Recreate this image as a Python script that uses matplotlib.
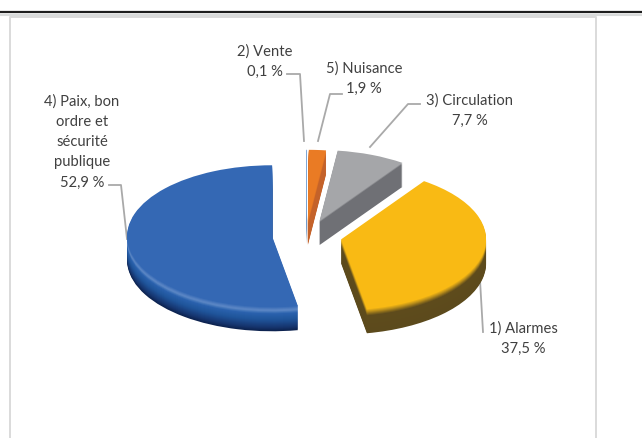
import numpy as np
import matplotlib
matplotlib.use("Agg")
import matplotlib.pyplot as plt
from matplotlib.colors import LinearSegmentedColormap

plt.rcParams['font.family'] = ['Lato', 'DejaVu Sans']

W, H = 642, 438

# donnees du graphique (sens horaire depuis midi)
categories = ["2) Vente", "5) Nuisance", "3) Circulation", "1) Alarmes",
              "4) Paix, bon\nordre et\nsécurité\npublique"]
values = [0.1, 1.9, 7.7, 37.5, 52.9]
value_labels = ["0,1 %", "1,9 %", "7,7 %", "37,5 %", "52,9 %"]
explode = [0.20, 0.20, 0.24, 0.29, 0.20]

# couleurs : du bas de la tranche vers le dessus
ramps = [
    [(0, "#5F8FC4"), (1, "#7FA8D8")],
    [(0, "#C4622A"), (0.8, "#C4622A"), (1, "#EA7B24")],
    [(0, "#6F7075"), (0.92, "#6F7075"), (1, "#A5A6A9")],
    [(0, "#5C4A1C"), (0.72, "#5E4B1C"), (0.9, "#C4951A"), (1, "#F9BA14")],
    [(0, "#0D2350"), (0.15, "#16356F"), (0.45, "#1F5499"), (0.72, "#2A62AE"),
     (0.85, "#5F89C6"), (1, "#3468B4")],
]
cmaps = [LinearSegmentedColormap.from_list("r%d" % i, r) for i, r in enumerate(ramps)]

RX = 145
RY = 71
K = RY / RX
CX, CY = 301, 235
DEPTH = 24
# petit recalage de chaque part, en pixels
nudges = [(5, 0), (5, 0), (6, 2), (-1, 0), (0, 0)]

fig = plt.figure(figsize=(W / 100, H / 100), dpi=100)

# couche en pixels : cadre, filets, textes
bg = fig.add_axes([0, 0, 1, 1])
bg.set_xlim(0, W)
bg.set_ylim(H, 0)
bg.axis("off")

bg.plot([0, W], [14.5, 14.5], color="#D9DBDB", lw=1.5, solid_capstyle="butt")
bg.plot([0, W], [12.3, 12.3], color="#1E1E1E", lw=1.6, solid_capstyle="butt")
bg.plot([10, 10, 596, 596], [H + 2, 17, 17, H + 2], color="#DADADA", lw=1.4)

leaders = [
    ([287, 300, 304], [74, 74, 141]),
    ([342, 330, 318], [94, 94, 141]),
    ([420, 408, 370], [104, 104, 147]),
    ([483, 480], [332, 280]),
    ([109, 121, 127], [185, 185, 239]),
]
for lx, ly in leaders:
    bg.plot(lx, ly, color="#A9A9A9", lw=1.3)

label_pos = [(265, 62), (364, 79), (470, 111), (523, 339), (82, 142)]
for name, val, (tx, ty) in zip(categories, value_labels, label_pos):
    bg.text(tx, ty, name + "\n" + val, ha="center", va="center", fontsize=10.6,
            color="#404040", linespacing=1.56)

# camembert : empilement de couches pour le relief
offsets = [e * RX for e in explode]
ax = fig.add_axes([0, 0, 1, 1])
ax.patch.set_alpha(0)
for d in range(DEPTH, -1, -1):
    frac = 1 - d / DEPTH
    colors = [cm(frac) for cm in cmaps]
    wedges, _ = ax.pie(values, explode=offsets, colors=colors, startangle=90, counterclock=False,
                       radius=RX, center=(CX, (H - CY - d) / K), normalize=True,
                       wedgeprops={"linewidth": 0.3, "edgecolor": "none"}, frame=False)
    for w, (nx, ny) in zip(wedges, nudges):
        w.set_center((w.center[0] + nx, w.center[1] - ny / K))
ax.set_aspect("auto")
ax.set_xlim(0, W)
ax.set_ylim(0, H / K)
ax.axis("off")

fig.savefig("out.png", dpi=100)
